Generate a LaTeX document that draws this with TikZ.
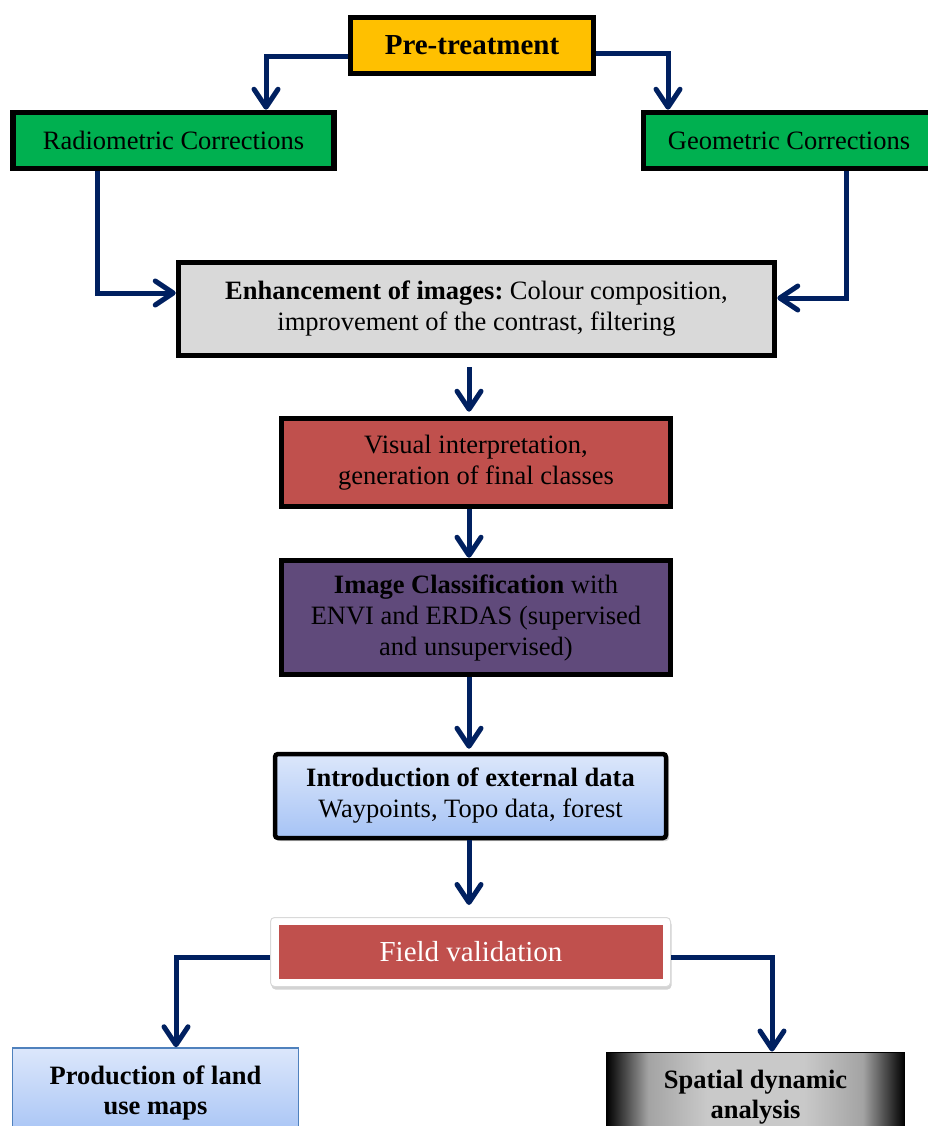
\documentclass[tikz,border=0pt]{standalone}
\usepackage{fontspec}
\setmainfont{Liberation Serif}
\usetikzlibrary{arrows.meta,shadows,calc}
\definecolor{navy}{HTML}{002060}
\definecolor{gold}{HTML}{FFC000}
\definecolor{grn}{HTML}{00B050}
\definecolor{lgrey}{HTML}{D9D9D9}
\definecolor{redbox}{HTML}{C0504D}
\definecolor{purp}{HTML}{604A7B}
\definecolor{bluetop}{HTML}{DCE7FB}
\definecolor{bluebot}{HTML}{A6C3F5}
\definecolor{blueedge}{HTML}{4F81BD}
\pgfdeclarehorizontalshading{spatialshade}{100bp}{color(0bp)=(black); color(25bp)=(black); color(32bp)=(gray!72); color(42bp)=(gray!42); color(58bp)=(gray!42); color(68bp)=(gray!72); color(75bp)=(black); color(100bp)=(black)}
\tikzset{
  txt/.style={font=\fontsize{26.5}{31}\selectfont\frenchspacing, align=center, inner sep=0pt},
  bigtxt/.style={font=\fontsize{29}{34}\selectfont\bfseries, align=center, inner sep=0pt},
  thickbox/.style={draw=black, line width=5.5pt, line join=miter},
  arr/.style={draw=navy, line width=5pt, line join=miter, -{Straight Barb[length=18pt,width=24pt,round]}},
}
\begin{document}
\begin{tikzpicture}[x=1pt,y=-1pt]
\useasboundingbox (0,0) rectangle (928,1126);
\clip (0,0) rectangle (928,1126);
\coordinate (axis) at (469,0);

% boxes
\node[thickbox, bigtxt, fill=gold, minimum width=243pt, minimum height=56pt] (pre) at (472,45.5) {Pre-treatment};
\node[thickbox, txt, fill=grn, minimum width=321pt, minimum height=56pt] (rad) at (173.5,140.5) {Radiometric Corrections};
\node[thickbox, txt, fill=grn, minimum width=291pt, minimum height=56pt] (geo) at (789,140.5) {Geometric Corrections};
\node[thickbox, txt, fill=lgrey, minimum width=596pt, minimum height=93pt] (enh) at (476.5,309) {\textbf{Enhancement of images:} Colour composition,\\improvement of the contrast, filtering};
\node[thickbox, txt, fill=redbox, minimum width=389pt, minimum height=88pt] (vis) at (476,462.5) {Visual interpretation,\\generation of final classes};
\node[thickbox, txt, fill=purp, minimum width=389pt, minimum height=114pt] (img) at (476,617.5) {\textbf{Image Classification} with\\ENVI and ERDAS (supervised\\and unsupervised)};
\node[draw=black, line width=4.5pt, rounded corners=3pt, txt, top color=bluetop, bottom color=bluebot, minimum width=391pt, minimum height=84pt,
      drop shadow={shadow xshift=3pt, shadow yshift=-3pt, opacity=0.35, fill=gray}] (intro) at (470.5,796) {\textbf{Introduction of external data}\\Waypoints, Topo data, forest};
\node[draw=gray!30, line width=1pt, rounded corners=4pt, fill=white, minimum width=400pt, minimum height=69pt,
      drop shadow={shadow xshift=1pt, shadow yshift=-3pt, opacity=0.35, fill=gray}] (fo) at (470.5,952) {};
\node[txt, fill=redbox, text=white, font=\fontsize{29}{34}\selectfont, minimum width=384pt, minimum height=54pt] (field) at (471,952) {Field validation};
\node[draw=blueedge, line width=1.5pt, txt, font=\fontsize{26.5}{30}\selectfont\bfseries, top color=bluetop, bottom color=bluebot, minimum width=286pt, minimum height=90pt] (prod) at (155.5,1093) {Production of land\\use maps};
\node[draw=black, line width=1pt, txt, font=\fontsize{26.5}{30}\selectfont\bfseries, shading=spatialshade, minimum width=298pt, minimum height=90pt] (spa) at (755.5,1097) {Spatial dynamic\\analysis};

% connectors
\draw[arr] ([yshift=-11pt]pre.west) -| ([xshift=92.5pt]rad.north);
\draw[arr] ([yshift=-8.5pt]pre.east) -| ([xshift=-121pt]geo.north);
\draw[arr] ([xshift=-76.5pt]rad.south) |- ([yshift=16pt]enh.west);
\draw[arr] ([xshift=57pt]geo.south) |- ([yshift=11pt]enh.east);
\draw[arr] ([yshift=-9pt]enh.south -| axis) -- ([yshift=4pt]vis.north -| axis);
\draw[arr] (vis.south -| axis) -- (img.north -| axis);
\draw[arr] (img.south -| axis) -- ([yshift=3pt]intro.north -| axis);
\draw[arr] (intro.south -| axis) -- ([yshift=12pt]fo.north -| axis);
\draw[arr] ([yshift=-5pt]fo.west) -| ([xshift=20.5pt]prod.north);
\draw[arr] ([yshift=-5pt]fo.east) -| ([xshift=16.5pt]spa.north);
\end{tikzpicture}
\end{document}
